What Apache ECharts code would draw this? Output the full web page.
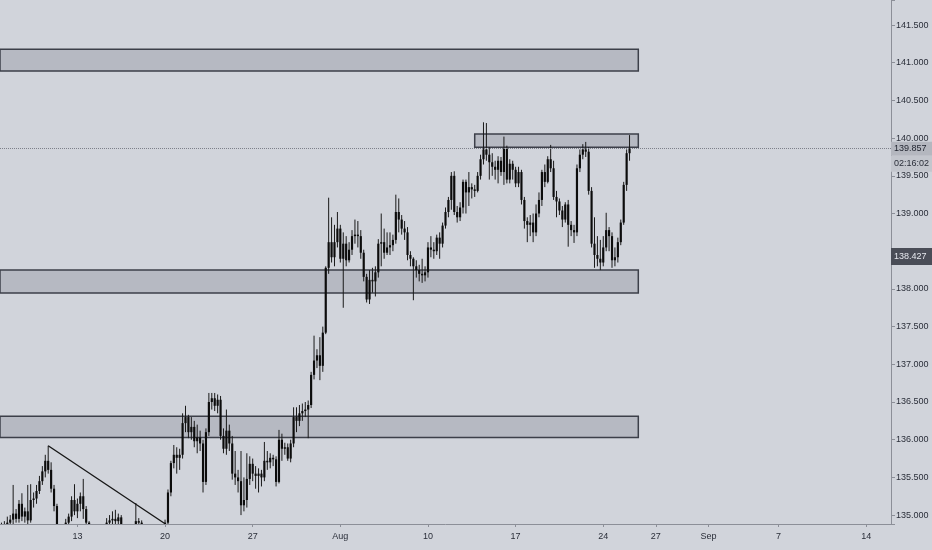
<!DOCTYPE html>
<html><head><meta charset="utf-8">
<script src="https://cdn.jsdelivr.net/npm/echarts@6/dist/echarts.min.js"></script>
<style>html,body{margin:0;padding:0;background:#d1d4db;}#c{width:932px;height:550px;}</style>
</head><body><div id="c"></div>
<script>
// 4-hour candles, first visible slot = Jul 6 16:00
const open = [134.85,134.80,134.86,134.90,134.94,135.02,134.95,135.15,134.98,135.05,134.93,135.20,135.22,135.32,135.45,135.58,135.72,135.60,135.35,135.12,
134.85,134.70,134.75,134.90,134.98,135.20,135.05,135.15,135.25,135.08,134.90,134.75,134.68,134.62,134.70,134.74,134.80,134.90,134.93,134.95,
134.92,134.97,134.85,134.78,134.72,134.80,134.86,134.92,134.90,134.82,134.75,134.70,134.66,134.72,134.68,134.75,134.80,134.90,135.30,135.69,
135.80,135.76,135.80,136.22,136.30,136.10,136.17,135.98,136.03,135.95,135.44,136.10,136.50,136.55,136.45,136.53,136.05,135.88,136.12,135.95,
135.55,135.50,135.45,135.13,135.20,135.48,135.68,135.55,135.52,135.55,135.50,135.72,135.70,135.76,135.74,135.44,136.00,135.88,135.90,135.75,
135.95,136.30,136.25,136.35,136.38,136.40,136.46,136.86,137.05,137.12,136.98,137.42,138.28,138.62,138.42,138.62,138.80,138.40,138.60,138.38,
138.52,138.70,138.72,138.70,138.48,138.16,137.86,138.12,138.10,138.22,138.60,138.62,138.48,138.55,138.58,138.65,139.02,138.92,138.80,138.75,
138.45,138.40,138.30,138.25,138.20,138.18,138.22,138.55,138.52,138.50,138.68,138.60,138.84,139.02,139.18,139.50,139.02,138.95,139.08,139.42,
139.28,139.35,139.32,139.30,139.50,139.72,139.85,139.78,139.68,139.62,139.58,139.70,139.55,139.86,139.45,139.66,139.58,139.40,139.55,139.18,
138.90,138.85,138.88,138.75,139.00,139.18,139.55,139.42,139.72,139.60,139.22,139.16,139.04,138.92,139.12,138.85,138.78,138.75,139.60,139.78,
139.85,139.82,139.30,138.60,138.45,138.40,138.35,138.55,138.78,138.70,138.38,138.42,138.62,138.88,139.38,139.80];
const close = [134.80,134.86,134.90,134.94,135.02,134.95,135.15,134.98,135.05,134.93,135.20,135.22,135.32,135.45,135.58,135.72,135.60,135.35,135.12,134.85,
134.70,134.75,134.90,134.98,135.20,135.05,135.15,135.25,135.08,134.90,134.75,134.68,134.62,134.70,134.74,134.80,134.90,134.93,134.95,134.92,
134.97,134.85,134.78,134.72,134.80,134.86,134.92,134.90,134.82,134.75,134.70,134.66,134.72,134.68,134.75,134.80,134.90,135.30,135.69,135.80,
135.76,135.80,136.22,136.30,136.10,136.17,135.98,136.03,135.95,135.44,136.10,136.50,136.55,136.45,136.53,136.05,135.88,136.12,135.95,135.55,
135.50,135.45,135.13,135.20,135.48,135.68,135.55,135.52,135.55,135.50,135.72,135.70,135.76,135.74,135.44,136.00,135.88,135.90,135.75,135.95,
136.30,136.25,136.35,136.38,136.40,136.46,136.86,137.05,137.12,136.98,137.42,138.28,138.62,138.42,138.62,138.80,138.40,138.60,138.38,138.52,
138.70,138.72,138.70,138.48,138.16,137.86,138.12,138.10,138.22,138.60,138.62,138.48,138.55,138.58,138.65,139.02,138.92,138.80,138.75,138.45,
138.40,138.30,138.25,138.20,138.18,138.22,138.55,138.52,138.50,138.68,138.60,138.84,139.02,139.18,139.50,139.02,138.95,139.08,139.42,139.28,
139.35,139.32,139.30,139.50,139.72,139.85,139.78,139.68,139.62,139.58,139.70,139.55,139.86,139.45,139.66,139.58,139.40,139.55,139.18,138.90,
138.85,138.88,138.75,139.00,139.18,139.55,139.42,139.72,139.60,139.22,139.16,139.04,138.92,139.12,138.85,138.78,138.75,139.60,139.78,139.85,
139.82,139.30,138.60,138.45,138.40,138.35,138.55,138.78,138.70,138.38,138.42,138.62,138.88,139.38,139.80,139.857];
const low = [134.70,134.72,134.78,134.85,134.86,134.90,134.90,134.92,134.90,134.88,134.90,135.10,135.15,135.28,135.40,135.50,135.55,135.30,135.05,134.80,
134.60,134.62,134.70,134.85,134.92,135.00,134.96,135.05,134.95,134.85,134.70,134.60,134.55,134.55,134.64,134.68,134.76,134.85,134.86,134.88,
134.87,134.80,134.70,134.66,134.68,134.76,134.82,134.85,134.76,134.70,134.62,134.58,134.60,134.62,134.64,134.70,134.76,134.86,135.25,135.62,
135.55,135.60,135.75,136.10,136.02,136.00,135.90,135.82,135.85,135.30,135.40,136.05,136.40,136.38,136.35,136.00,135.82,135.80,135.85,135.47,
135.40,135.30,135.00,135.05,135.10,135.40,135.45,135.35,135.30,135.38,135.45,135.60,135.62,135.65,135.38,135.42,135.72,135.80,135.72,135.70,
135.90,136.10,136.18,136.25,136.30,136.02,136.42,136.80,136.95,136.79,136.90,137.40,138.20,138.35,138.30,138.55,138.35,137.75,138.30,138.35,
138.45,138.60,138.55,138.40,138.10,137.82,137.80,137.95,137.90,138.15,138.30,138.40,138.45,138.45,138.50,138.60,138.75,138.72,138.65,138.38,
138.30,137.85,138.15,138.10,138.08,138.10,138.15,138.42,138.40,138.45,138.40,138.55,138.80,138.95,139.05,138.98,138.88,138.90,139.00,139.00,
139.10,139.20,139.22,139.28,139.45,139.65,139.70,139.45,139.50,139.45,139.40,139.50,139.38,139.40,139.40,139.45,139.35,139.35,139.12,138.80,
138.62,138.70,138.62,138.70,138.95,139.10,139.35,139.40,139.55,139.18,138.95,138.98,138.82,138.88,138.56,138.70,138.61,138.70,139.55,139.72,
139.75,139.25,138.55,138.28,138.30,138.25,138.30,138.50,138.50,138.28,138.30,138.35,138.58,138.85,139.30,139.70];
const high = [134.90,134.92,134.98,135.00,135.40,135.08,135.20,135.29,135.10,135.40,135.41,135.30,135.40,135.52,135.65,135.80,135.92,135.70,135.40,135.15,
134.88,134.86,134.95,135.02,135.25,135.41,135.22,135.30,135.48,135.12,134.92,134.82,134.75,134.78,134.82,134.86,134.96,135.00,135.05,135.07,
135.02,135.00,134.87,134.84,134.86,134.88,135.16,134.96,134.93,134.85,134.80,134.76,134.78,134.80,134.82,134.86,134.94,135.34,135.72,135.93,
135.90,135.88,136.35,136.45,136.33,136.30,136.25,136.20,136.12,136.00,136.15,136.62,136.62,136.62,136.60,136.58,136.15,136.40,136.20,136.05,
135.85,135.60,135.85,135.50,135.82,135.78,135.75,135.65,135.62,135.60,135.97,135.85,135.82,135.80,135.78,136.13,136.08,135.96,135.95,136.00,
136.43,136.43,136.46,136.48,136.50,136.52,136.90,137.38,137.20,137.36,137.50,138.30,139.21,138.95,138.85,139.02,138.85,138.75,138.70,138.62,
138.78,138.92,138.90,138.78,138.52,138.20,138.25,138.28,138.30,138.66,139.00,138.80,138.75,138.75,138.72,139.25,139.20,138.98,138.90,138.82,
138.50,138.42,138.38,138.32,138.40,138.30,138.62,138.70,138.62,138.72,138.75,138.88,139.08,139.22,139.55,139.56,139.10,139.15,139.45,139.45,
139.55,139.40,139.38,139.55,139.78,140.21,140.20,139.88,139.80,139.70,139.76,139.75,140.02,139.90,139.72,139.70,139.62,139.62,139.58,139.22,
138.95,138.98,139.00,139.12,139.28,139.58,139.65,139.76,139.91,139.70,139.30,139.20,139.10,139.15,139.18,138.90,138.85,139.65,139.85,139.92,
139.95,139.88,139.35,138.95,138.70,138.65,138.70,139.01,138.82,138.75,138.55,138.68,138.92,139.42,139.85,140.04];

// axis tick labels (category -> text)
const tickCats = ['Jul 13 00:00','Jul 20 00:00','Jul 27 00:00','Aug 3 00:00','Aug 10 00:00','Aug 17 00:00','Aug 24 00:00','Aug 27 00:00','Sep 1 00:00','Sep 7 00:00','Sep 14 00:00'];
const tickText = ['13','20','27','Aug','10','17','24','27','Sep','7','14'];

// drawn zones (price ranges, time span)
const zoneLow  = [140.89, 139.88, 137.945, 136.03];
const zoneHigh = [141.18, 140.054, 138.25, 136.31];
const zoneFrom = [null, 'Aug 12 16:00', null, null];
const zoneTo   = ['Aug 26 00:00', 'Aug 26 00:00', 'Aug 26 00:00', 'Aug 26 00:00'];

// trend line
const trendFrom = ['Jul 9 08:00', 135.92];
const trendTo   = ['Jul 20 00:00', 134.885];

const lastPrice = 139.857;
const countdown = '02:16:02';
const markPrice = 138.427;
const yMin = 134.882, yMax = 141.832;

// build 4H slots (trading days only)
const months = ['Jan','Feb','Mar','Apr','May','Jun','Jul','Aug','Sep','Oct','Nov','Dec'];
const hours = ['00:00','04:00','08:00','12:00','16:00','20:00'];
const slots = [];
for (let t = Date.UTC(2020, 6, 6); slots.length < 330; t += 86400000) {
  const d = new Date(t); const wd = d.getUTCDay();
  if (wd === 0 || wd === 6) continue;
  for (const h of hours) slots.push(months[d.getUTCMonth()] + ' ' + d.getUTCDate() + ' ' + h);
}
const categories = slots.slice(4, 4 + 305);

const candles = open.map((o, i) => [i, o, close[i], low[i], high[i]]);

const font = "'Liberation Sans','Arial',sans-serif";
const fs = 9;
const axisGray = '#8c8f98';
const textCol = '#2a2e39';

const zones = zoneLow.map((lo, i) => {
  const a = { yAxis: lo };
  if (zoneFrom[i]) a.xAxis = zoneFrom[i];
  return [a, { xAxis: zoneTo[i], yAxis: zoneHigh[i] }];
});

const isTick = (i, v) => tickCats.indexOf(v) >= 0;

function renderCandle(params, api) {
  const x = api.value(0);
  const pO = api.coord([x, api.value(1)]);
  const pC = api.coord([x, api.value(2)]);
  const pL = api.coord([x, api.value(3)]);
  const pH = api.coord([x, api.value(4)]);
  const cs = params.coordSys;
  const bw = api.size([1, 0])[0] * 0.74;
  const top = cs.y, bot = cs.y + cs.height;
  const children = [];
  const wt = Math.max(pH[1], top), wb = Math.min(pL[1], bot);
  if (wb > wt) {
    children.push({ type: 'line', shape: { x1: pO[0], y1: wt, x2: pO[0], y2: wb }, style: { stroke: '#1a1a1a', lineWidth: 1 } });
  }
  const body = echarts.graphic.clipRectByRect(
    { x: pO[0] - bw / 2, y: Math.min(pO[1], pC[1]), width: bw, height: Math.max(Math.abs(pO[1] - pC[1]), 1) },
    { x: cs.x, y: cs.y, width: cs.width, height: cs.height });
  if (body) children.push({ type: 'rect', shape: body, style: { fill: '#0c0c0c' } });
  return { type: 'group', children };
}

const chart = echarts.init(document.getElementById('c'));
chart.setOption({
  backgroundColor: '#d1d4db',
  animation: false,
  grid: { left: 0, right: 41, top: 0, bottom: 26, containLabel: false, outerBoundsMode: 'none' },
  xAxis: {
    type: 'category', data: categories, boundaryGap: true,
    axisLine: { show: true, lineStyle: { color: axisGray, width: 1 } },
    axisTick: { show: true, alignWithLabel: true, length: 3, interval: isTick, lineStyle: { color: axisGray } },
    axisLabel: { interval: isTick, formatter: v => tickText[tickCats.indexOf(v)] || '', color: textCol, fontSize: fs, fontFamily: font, margin: 8 },
    splitLine: { show: false }
  },
  yAxis: {
    type: 'value', position: 'right', min: yMin, max: yMax, splitNumber: 14,
    axisLine: { show: true, lineStyle: { color: axisGray } },
    axisTick: { show: true, length: 4, lineStyle: { color: axisGray } },
    axisLabel: {
      color: textCol, fontSize: fs, fontFamily: font, margin: 5,
      formatter: v => Math.abs(v * 2 - Math.round(v * 2)) < 1e-6 ? v.toFixed(3) : ''
    },
    splitLine: { show: false }
  },
  series: [
    {
      type: 'line', data: [], z: 1, silent: true,
      markArea: {
        silent: true,
        itemStyle: { color: 'rgba(120,124,136,0.3)', borderColor: '#3c3f49', borderWidth: 1.5 },
        data: zones
      }
    },
    {
      type: 'custom', z: 3, data: candles, renderItem: renderCandle,
      encode: { x: 0, y: [1, 2, 3, 4] }, silent: true
    },
    {
      type: 'line', data: [], z: 5, silent: true,
      markLine: {
        silent: true, symbol: ['none', 'none'],
        data: [
          [
            { coord: trendFrom, lineStyle: { color: '#151515', width: 1.3, type: 'solid' }, label: { show: false } },
            { coord: trendTo, lineStyle: { color: '#151515', width: 1.3, type: 'solid' }, label: { show: false } }
          ],
          {
            yAxis: lastPrice,
            lineStyle: { color: '#7d808a', width: 1, type: 'dotted' },
            label: {
              show: true, position: 'end', distance: 0,
              formatter: '{g|}\n{p|' + lastPrice.toFixed(3) + '}\n{t|' + countdown + '}',
              rich: {
                g: { height: 16, lineHeight: 16 },
                p: { backgroundColor: '#b4b7bf', color: '#1e222d', fontSize: fs, fontFamily: font, width: 35, height: 14, lineHeight: 14, padding: [0, 3] },
                t: { backgroundColor: '#c3c6cd', color: '#2a2e39', fontSize: fs, fontFamily: font, width: 35, height: 16, lineHeight: 16, padding: [0, 3] }
              }
            }
          },
          {
            yAxis: markPrice,
            lineStyle: { color: 'rgba(0,0,0,0)', width: 0 },
            label: {
              show: true, position: 'end', distance: 0,
              formatter: markPrice.toFixed(3),
              backgroundColor: '#4a4d57', color: '#e6e8ee', fontSize: fs, fontFamily: font,
              padding: [4, 3], width: 35
            }
          }
        ]
      }
    }
  ]
});
</script>
</body></html>
